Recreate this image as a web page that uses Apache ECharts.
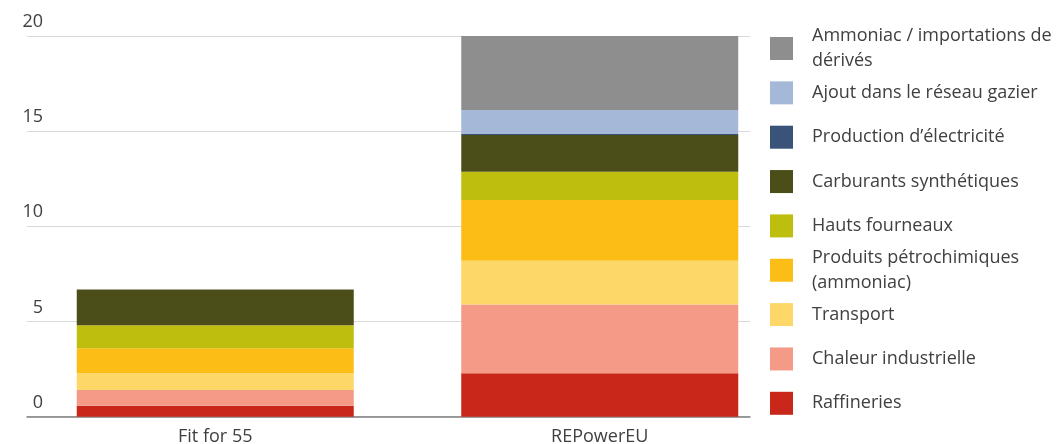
<!DOCTYPE html>
<html>
<head>
<meta charset="utf-8">
<title>Hydrogène renouvelable par secteur</title>
<script src="https://cdn.jsdelivr.net/npm/echarts@6/dist/echarts.min.js"></script>
<style>
  html, body { margin: 0; padding: 0; background: #ffffff; }
  #chart { width: 1059px; height: 444px; }
</style>
</head>
<body>
<div id="chart"></div>
<script>
// Scenarios on the category axis
const categories = ['Fit for 55', 'REPowerEU'];

// Sector names, bottom of the stack first
const seriesNames = [
  'Raffineries',
  'Chaleur industrielle',
  'Transport',
  'Produits pétrochimiques\n(ammoniac)',
  'Hauts fourneaux',
  'Carburants synthétiques',
  'Production d’électricité',
  'Ajout dans le réseau gazier',
  'Ammoniac / importations de\ndérivés'
];

// Values per sector, [Fit for 55, REPowerEU]
const raffineries = [0.58, 2.28];
const chaleurIndustrielle = [0.82, 3.62];
const transport = [0.88, 2.29];
const petrochimie = [1.31, 3.19];
const hautsFourneaux = [1.22, 1.49];
const carburantsSynthetiques = [1.87, 1.93];
const productionElectricite = [0, 0.05];
const reseauGazier = [0, 1.26];
const ammoniacImportations = [0, 3.92];

const seriesValues = [
  raffineries, chaleurIndustrielle, transport, petrochimie, hautsFourneaux,
  carburantsSynthetiques, productionElectricite, reseauGazier, ammoniacImportations
];

// Value axis ticks
const yTicks = [0, 5, 10, 15, 20];

const colors = [
  '#c9271a', '#f49a87', '#fdd868', '#fbbd16', '#bdbe0d',
  '#4c4e19', '#3a5479', '#a6b8d7', '#8e8e8e'
];

const FONT = '"Open Sans", "Noto Sans", sans-serif';
const TEXT = '#404040';
const FONT_SIZE = 18;
const LINE_H = 25;
const ICON = 23;

const plotTop = 36;
const plotBottom = 27.3;

// One legend block per sector, listed top-down from the top of the stack;
// each swatch sits on a fixed pitch, multi-line labels are centred on it
const legends = seriesNames.slice().reverse().map((name, i) => {
  const lines = name.split('\n').length;
  const swatchTop = 36 + i * 44.35;
  const itemH = Math.max(ICON, lines * LINE_H);
  return {
    data: [name],
    orient: 'vertical',
    left: 770,
    top: swatchTop - (itemH - ICON) / 2,
    icon: 'rect',
    itemWidth: ICON,
    itemHeight: ICON,
    itemGap: 0,
    padding: 0,
    textStyle: {
      fontFamily: FONT,
      fontSize: FONT_SIZE,
      lineHeight: LINE_H,
      color: TEXT,
      padding: [2, 0, 0, 14]
    },
    selectedMode: false
  };
});

const option = {
  animation: false,
  backgroundColor: '#ffffff',
  color: colors,
  legend: legends,
  grid: [
    // bar area
    { left: 23, width: 769, top: plotTop, bottom: plotBottom, outerBoundsMode: 'none', containLabel: false },
    // gridlines and baseline
    { left: 27, width: 723, top: plotTop, bottom: plotBottom, outerBoundsMode: 'none', containLabel: false }
  ],
  xAxis: [
    {
      type: 'category',
      gridIndex: 0,
      data: categories,
      axisLine: { show: false },
      axisTick: { show: false },
      axisLabel: {
        margin: 11,
        fontFamily: FONT,
        fontSize: FONT_SIZE,
        color: TEXT
      }
    },
    {
      type: 'value',
      gridIndex: 1,
      min: 0,
      max: 1,
      axisLine: { show: true, onZero: false, lineStyle: { color: '#7f7f7f', width: 1.5 } },
      axisTick: { show: false },
      axisLabel: { show: false },
      splitLine: { show: false }
    }
  ],
  yAxis: [
    {
      type: 'value',
      gridIndex: 0,
      min: 0,
      max: 20,
      interval: 5,
      axisLine: { show: false },
      axisTick: { show: false },
      axisLabel: { show: false },
      splitLine: { show: false }
    },
    {
      type: 'value',
      gridIndex: 1,
      min: yTicks[0],
      max: yTicks[yTicks.length - 1],
      interval: 5,
      axisLine: { show: false },
      axisTick: { show: false },
      splitLine: { show: true, lineStyle: { color: '#d9d9d9', width: 1.2 } },
      axisLabel: {
        margin: -16,
        align: 'right',
        verticalAlign: 'bottom',
        padding: [0, 0, 5, 0],
        lineHeight: 18,
        fontFamily: FONT,
        fontSize: FONT_SIZE,
        color: TEXT
      }
    }
  ],
  series: seriesNames.map((name, i) => ({
    name: name,
    type: 'bar',
    stack: 'total',
    xAxisIndex: 0,
    yAxisIndex: 0,
    barWidth: 277,
    data: seriesValues[i],
    itemStyle: { color: colors[i] }
  }))
};

const chart = echarts.init(document.getElementById('chart'), null, { renderer: 'canvas' });
chart.setOption(option);
</script>
</body>
</html>
